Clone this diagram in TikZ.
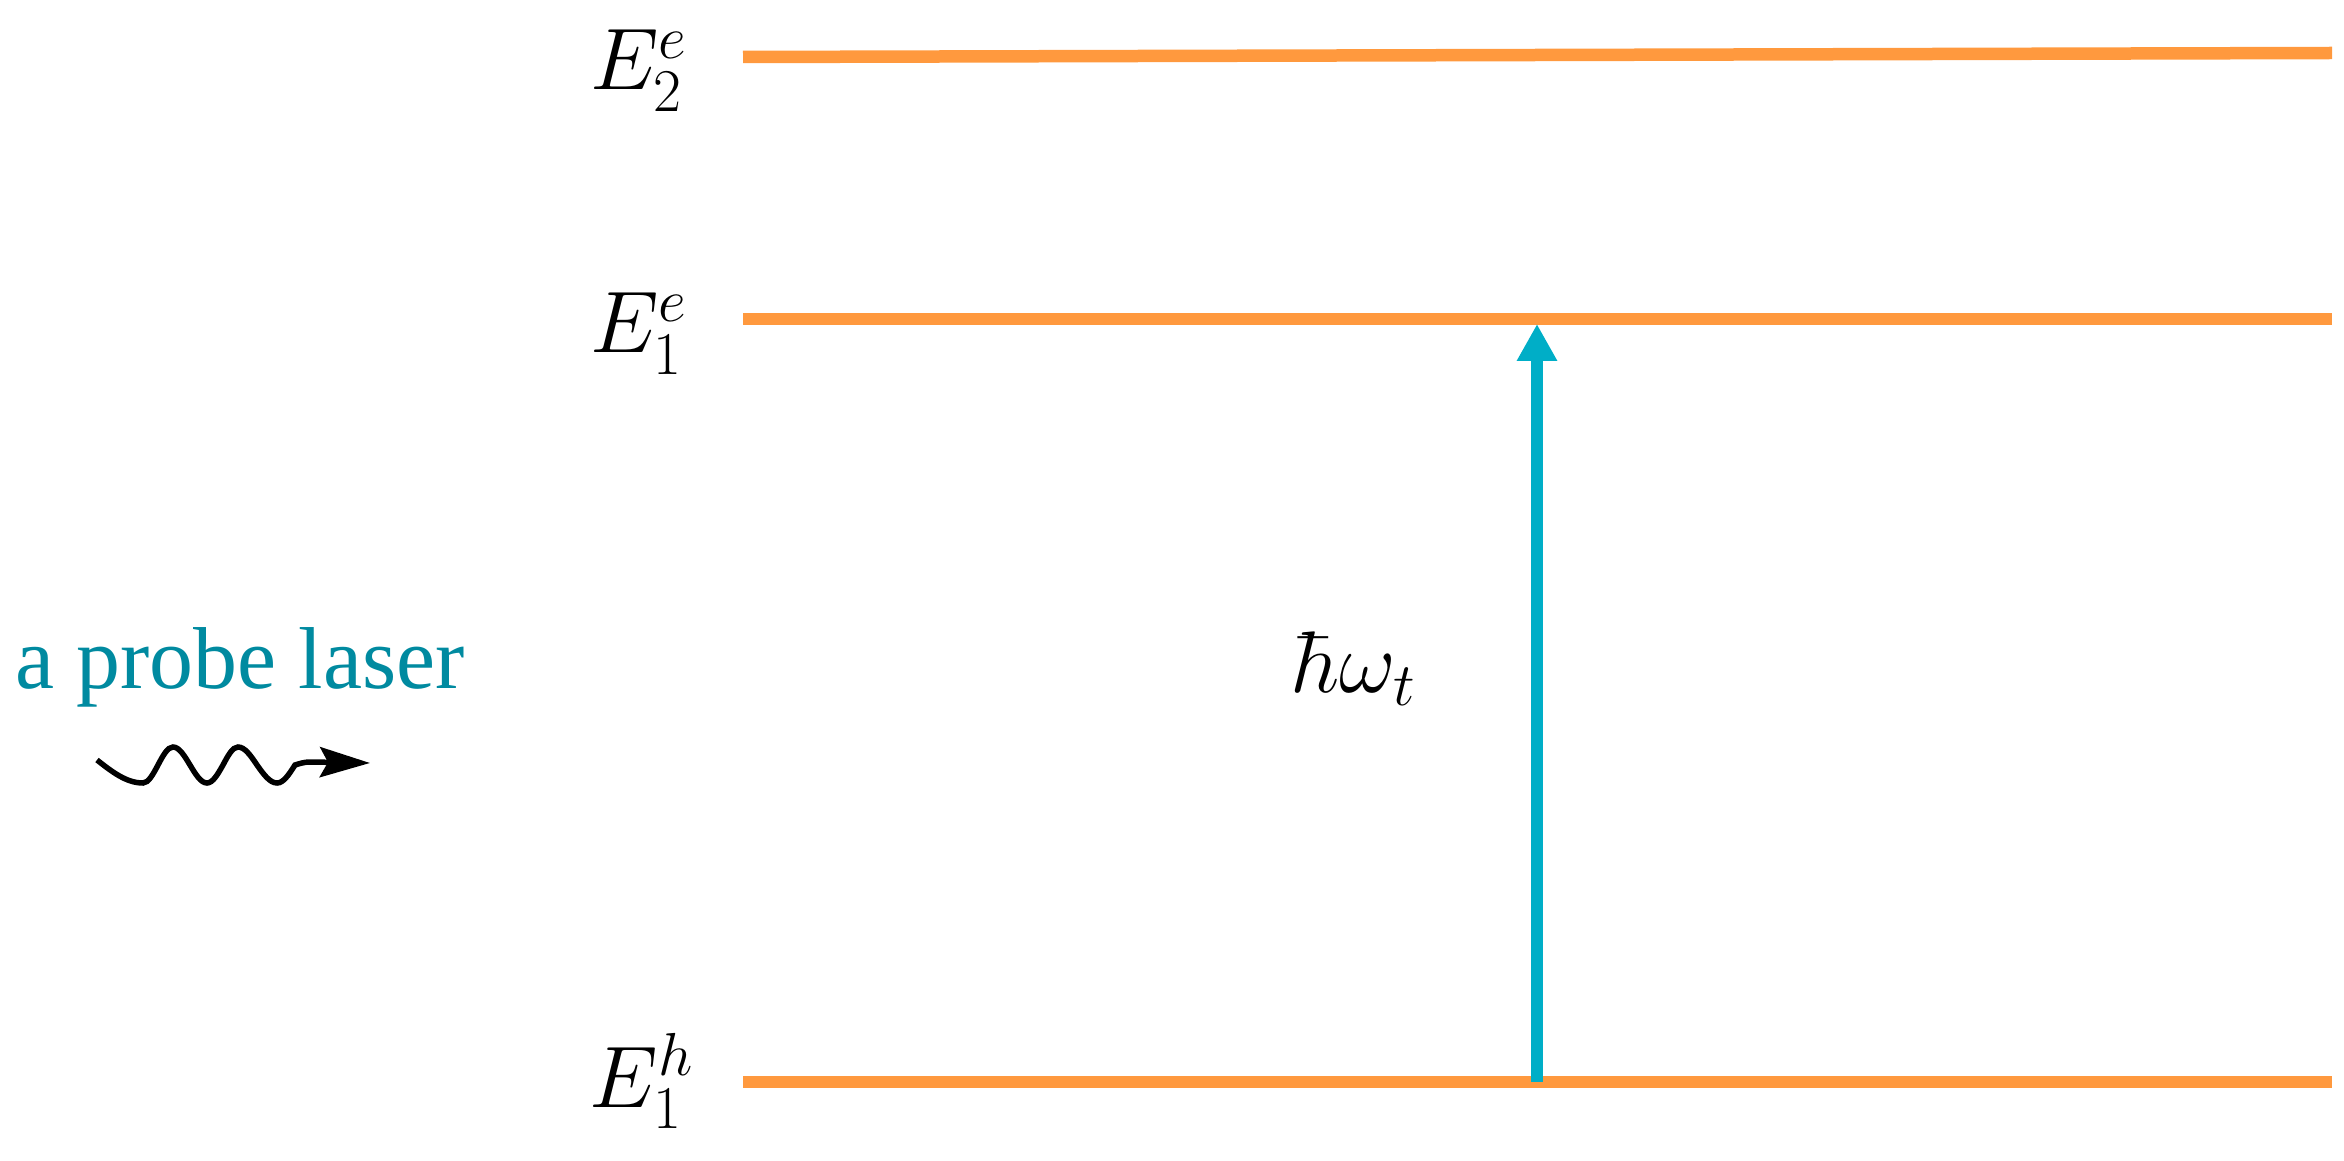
\documentclass[tikz,border=0pt]{standalone}
\usepackage{fontspec}
\newfontfamily\laserfont{Liberation Serif}
\usetikzlibrary{arrows.meta, positioning}

\definecolor{levelorange}{RGB}{255,153,62}
\definecolor{photoncyan}{RGB}{0,174,199}
\definecolor{laserteal}{RGB}{0,138,160}

\begin{document}
\begin{tikzpicture}[
	level/.style={line width=0.125cm, levelorange},
	lvlabel/.style={anchor=base east, inner sep=0pt, font=\fontsize{25.8}{30}\selectfont}]
	\useasboundingbox (0,0) rectangle (23.44,-11.61);

	\coordinate (E2L) at (7.43, -0.57);
	\coordinate (E2R) at (23.32, -0.53);
	\coordinate (E1L) at (7.43, -3.19);
	\coordinate (E1R) at (23.32, -3.19);
	\coordinate (H1L) at (7.43, -10.82);
	\coordinate (H1R) at (23.32, -10.82);

	% energy levels
	\draw [level] (E2L) -- (E2R);
	\draw [level] (E1L) -- (E1R);
	\draw [level] (H1L) -- (H1R);

	\node [lvlabel] (labE2) at (6.89, -0.90) {$E_2^e$};
	\node [lvlabel] (labE1) at (6.89, -3.53) {$E_1^e$};
	\node [lvlabel] (labH1) at (6.95, -11.07) {$E_1^h$};

	% transition
	\coordinate (T0) at (15.37, -10.82);
	\coordinate (T1) at (15.37, -3.24);
	\draw [photoncyan, line width=0.12cm, -{Triangle[length=0.37cm, width=0.38cm]}] (T0) -- (T1);
	\node [anchor=base west, inner sep=0pt, font=\fontsize{25.8}{30}\selectfont] (hw) at (12.92, -6.92) {$\hbar\omega_t$};

	% probe laser
	\node [anchor=base west, inner sep=0pt, text=laserteal, font=\laserfont\fontsize{25}{30}\selectfont] (probe) at (0.15, -6.88) {a probe laser};
	\coordinate (W0) at (0.97, -7.60);
	\coordinate (W1) at (3.70, -7.63);
	\draw [line width=0.055cm, -{Stealth[length=0.5cm, width=0.3cm, inset=0.08cm]}] (W0) sin (1.43,-7.83) cos (1.58,-7.65) sin (1.73,-7.47) cos (1.90,-7.65) sin (2.07,-7.83) cos (2.23,-7.65) sin (2.38,-7.47) cos (2.57,-7.65) sin (2.77,-7.83) cos (2.95,-7.65) sin (3.10,-7.62) -- (W1);
\end{tikzpicture}
\end{document}
